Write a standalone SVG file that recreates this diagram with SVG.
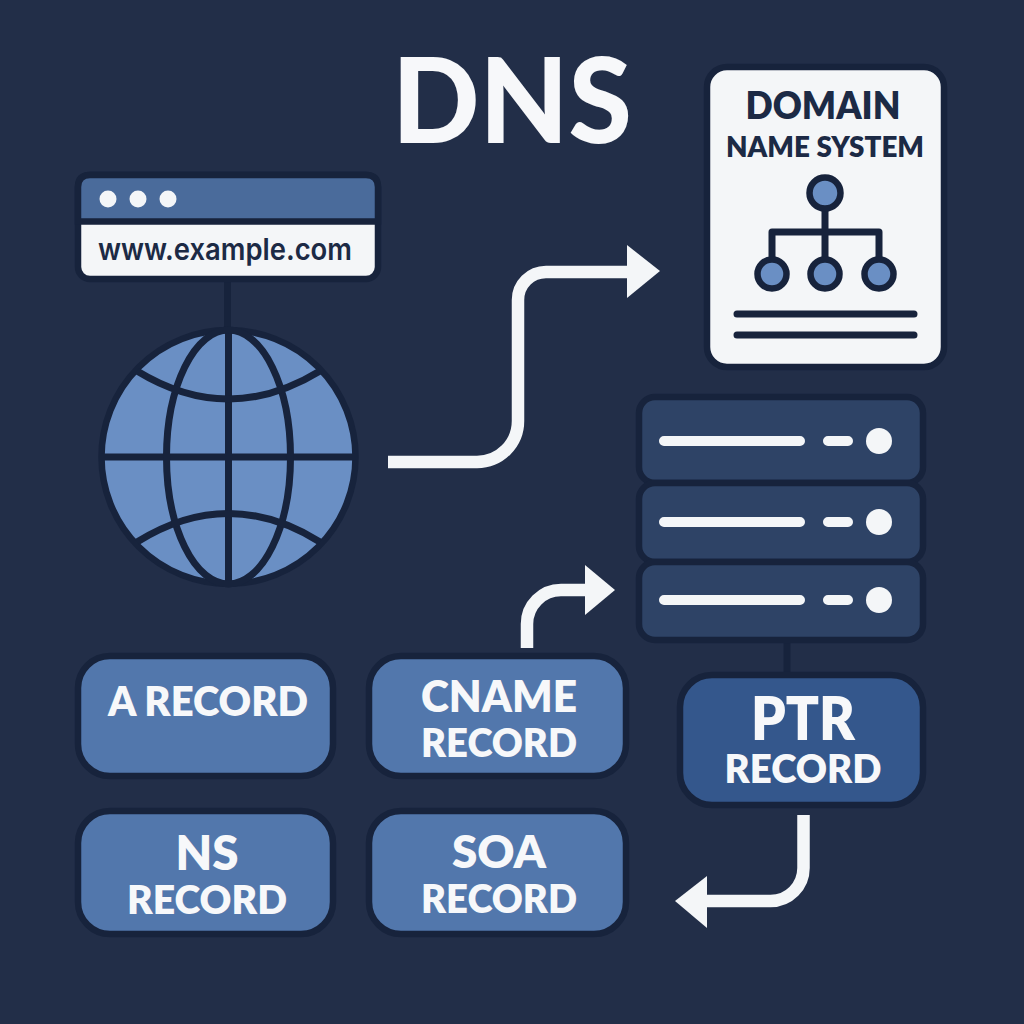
<svg xmlns="http://www.w3.org/2000/svg" width="1024" height="1024" viewBox="0 0 1024 1024">
<style>
.ln{stroke:#17233C;stroke-width:7;fill:none}
.box{stroke:#17233C;stroke-width:6.5}
.rec{fill:#5277AC}
.srv{fill:#2E4366}
.wt{fill:#F4F6F8}
.wl{stroke:#F4F6F8;stroke-width:10;stroke-linecap:round;fill:none}
.dl{stroke:#17233C;stroke-width:7;stroke-linecap:round;fill:none}
.arr{stroke:#F4F6F8;stroke-width:12.5;fill:none}
.bl{fill:#6A8FC4}
text{font-family:"Lato","Liberation Sans",sans-serif;font-weight:800;text-anchor:middle}
.t{fill:#F7F8FA}
.d{fill:#1C2A45}
</style>
<rect width="1024" height="1024" fill="#222E48"/>
<g id="connectors">
<path class="ln" d="M227.500 282V330"/>
<path class="ln" d="M787 642V676"/>
<path class="arr" d="M388 462H477A41 41 0 0 0 518 421V300A28 28 0 0 1 546 272H630"/>
<path class="wt" d="M627 245L660 271L627 298Z"/>
<path class="arr" d="M527 648V624A34 34 0 0 1 561 590H588"/>
<path class="wt" d="M585 565L615 590L585 615Z"/>
<path class="arr" d="M803.500 815V868A33 33 0 0 1 770.500 901H704"/>
<path class="wt" d="M707 876L675 901L707 928Z"/>
</g>
<text class="t" x="512" y="143" font-size="118" style="font-weight:900" textLength="240" lengthAdjust="spacingAndGlyphs">DNS</text>
<g id="browser">
<rect class="box" x="78" y="175" width="300" height="104" rx="12" fill="#F4F6F8"/>
<path d="M78 221.500V187Q78 175 90 175H366Q378 175 378 187V221.500Z" fill="#4A6B9B" stroke="#17233C" stroke-width="6.500"/>
<circle class="wt" cx="108" cy="199" r="8.500"/><circle class="wt" cx="138" cy="199" r="8.500"/><circle class="wt" cx="168" cy="199" r="8.500"/>
<text class="d" x="225" y="260" font-size="30" style="font-family:Inter,'Liberation Sans',sans-serif;font-weight:600" textLength="254" lengthAdjust="spacingAndGlyphs">www.example.com</text>
</g>
<g id="globe">
<circle class="bl" cx="228.500" cy="457" r="127" stroke="#17233C" stroke-width="6.500"/>
<path class="ln" d="M101 457H355M228.500 330V584"/>
<ellipse class="ln" cx="228.500" cy="457" rx="62" ry="127"/>
<path class="ln" d="M137 371Q228.500 427 320 371M137 542Q228.500 485 320 542"/>
</g>
<g id="doc">
<rect class="box wt" x="707" y="67" width="237" height="300" rx="20"/>
<text class="d" x="823" y="119" font-size="37" textLength="155" lengthAdjust="spacingAndGlyphs">DOMAIN</text>
<text class="d" x="825" y="157" font-size="29" textLength="198" lengthAdjust="spacingAndGlyphs">NAME SYSTEM</text>
<path class="ln" stroke-linejoin="round" d="M825 208V258M772 258V232H879V258"/>
<circle class="bl box" cx="825" cy="193" r="15.500"/>
<circle class="bl box" cx="772" cy="274" r="14.500"/><circle class="bl box" cx="825" cy="274" r="14.500"/><circle class="bl box" cx="879" cy="274" r="14.500"/>
<path class="dl" d="M737 314H914M737 335H914"/>
</g>
<g id="server">
<rect class="box srv" x="639" y="397" width="284" height="86" rx="16"/>
<rect class="box srv" x="639" y="483" width="284" height="79" rx="16"/>
<rect class="box srv" x="639" y="562" width="284" height="78" rx="16"/>
<path class="wl" d="M664 441H800M828 441H848M664 522H800M828 522H848M664 600H800M828 600H848"/>
<circle class="wt" cx="879" cy="441" r="13"/><circle class="wt" cx="879" cy="522" r="13"/><circle class="wt" cx="879" cy="600" r="13"/>
</g>
<g id="ptr">
<rect class="box" x="680" y="675" width="243" height="130" rx="32" fill="#34578C"/>
<text class="t" x="803" y="740" font-size="60" textLength="104" lengthAdjust="spacingAndGlyphs">PTR</text>
<text class="t" x="803" y="783" font-size="40" textLength="157" lengthAdjust="spacingAndGlyphs">RECORD</text>
</g>
<g id="a-record">
<rect class="box rec" x="78" y="656" width="255" height="120" rx="32"/>
<text class="t" x="208" y="716" font-size="41" textLength="200" lengthAdjust="spacingAndGlyphs">A RECORD</text>
</g>
<g id="cname-record">
<rect class="box rec" x="369" y="656" width="257" height="120" rx="32"/>
<text class="t" x="499" y="712" font-size="43" textLength="156" lengthAdjust="spacingAndGlyphs">CNAME</text>
<text class="t" x="499" y="757" font-size="40" textLength="156" lengthAdjust="spacingAndGlyphs">RECORD</text>
</g>
<g id="ns-record">
<rect class="box rec" x="78" y="811" width="255" height="123" rx="32"/>
<text class="t" x="207" y="870" font-size="48" textLength="63" lengthAdjust="spacingAndGlyphs">NS</text>
<text class="t" x="207" y="914" font-size="40" textLength="160" lengthAdjust="spacingAndGlyphs">RECORD</text>
</g>
<g id="soa-record">
<rect class="box rec" x="369" y="811" width="257" height="123" rx="32"/>
<text class="t" x="499" y="868" font-size="46" textLength="94" lengthAdjust="spacingAndGlyphs">SOA</text>
<text class="t" x="499" y="913" font-size="40" textLength="156" lengthAdjust="spacingAndGlyphs">RECORD</text>
</g>
</svg>
